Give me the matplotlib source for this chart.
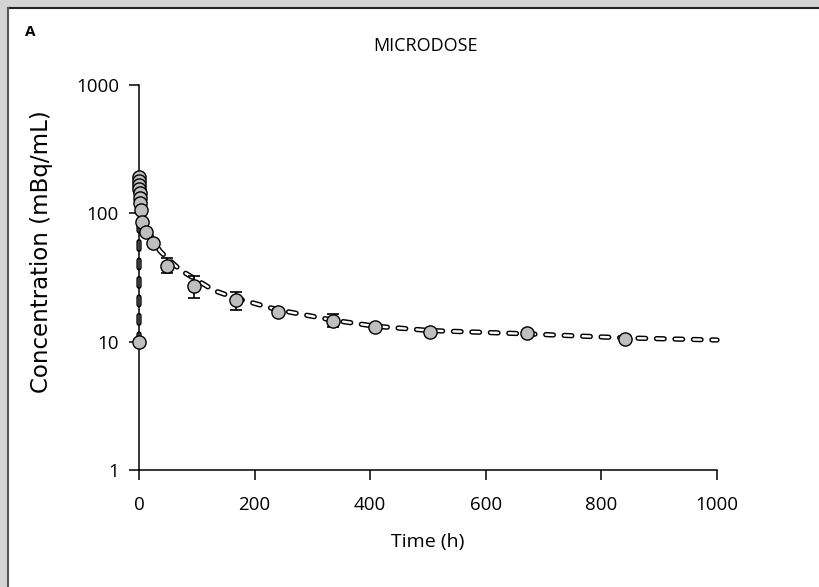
import numpy as np
import matplotlib.pyplot as plt
from matplotlib.patches import Rectangle
from matplotlib.lines import Line2D

plt.rcParams['font.family'] = ['Open Sans', 'DejaVu Sans']
plt.rcParams['lines.scale_dashes'] = False

# observed mean concentrations (mBq/mL) with error bars
time_obs = [0, 0.08, 0.25, 0.5, 0.75, 1, 1.5, 2, 3, 6, 12, 24, 48, 96, 168, 240, 336, 408, 504, 672, 840]
conc_obs = [10, 191, 180, 167, 154, 143, 131, 120, 106, 85, 71, 59, 39, 27, 21, 17.1, 14.6, 12.9, 12.0, 11.6, 10.4]
err_low = [0, 0, 0, 0, 0, 0, 0, 0, 0, 0, 0, 0, 4.5, 5.0, 3.2, 0.8, 1.7, 0.5, 0.5, 0.5, 0.5]
err_high = [0, 0, 0, 0, 0, 0, 0, 0, 0, 0, 0, 0, 6.0, 5.7, 3.2, 0.8, 1.9, 0.5, 0.5, 0.5, 0.5]

# model fit curve
time_fit = [0, 0.08, 0.5, 1, 2, 4, 8, 12, 24, 36, 48, 72, 96, 130, 168, 240, 336, 408, 504, 600, 672, 840, 1000]
conc_fit = [10, 192, 172, 158, 138, 116, 94, 82, 62, 51, 45, 36, 31, 25, 21.8, 17.7, 14.7, 13.2, 12.2, 11.8, 11.5, 10.7, 10.3]

x_ticks = [0, 200, 400, 600, 800, 1000]
y_ticks = [1, 10, 100, 1000]

W, H = 819, 587
fig = plt.figure(figsize=(W / 100, H / 100), dpi=100, facecolor='#d4d4d4')
# white panel with dark top/left edge
fig.patches.append(Rectangle((8 / W, 0), 1, 1 - 8 / H, transform=fig.transFigure,
                             facecolor='white', edgecolor='none', zorder=-10))
fig.lines.append(Line2D([8 / W, 1], [1 - 8 / H, 1 - 8 / H], transform=fig.transFigure,
                        color='#222222', lw=1.5, zorder=-5))
fig.lines.append(Line2D([8 / W, 8 / W], [0, 1 - 8 / H], transform=fig.transFigure,
                        color='#555555', lw=1.5, zorder=-5))

ax = fig.add_axes([139 / W, 1 - 470 / H, 578 / W, 385 / H])
ax.set_facecolor('none')

# hollow dashed model line
ax.plot(time_fit, conc_fit, color='black', lw=3.8, ls=(0, (5.5, 7.8)), dash_capstyle='round',
        clip_on=False, zorder=2)
ax.plot(time_fit, conc_fit, color='white', lw=1.7, ls=(0, (5.5, 7.8)), dash_capstyle='round',
        clip_on=False, zorder=2.1)

t = np.array(time_obs)
c = np.array(conc_obs)
lo = np.array(err_low)
hi = np.array(err_high)
m = (lo > 0) | (hi > 0)
ax.errorbar(t[m], c[m], yerr=[lo[m], hi[m]], fmt='none', ecolor='black', elinewidth=1.2,
            capsize=4.5, capthick=1.2, zorder=3)
ax.plot(time_obs, conc_obs, 'o', ms=9.5, mfc='#bfbfbf', mec='black', mew=1, clip_on=False, zorder=4)

ax.set_yscale('log')
ax.set_xlim(0, 1000)
ax.set_ylim(1, 1000)
ax.set_xticks(x_ticks)
ax.set_xticklabels([str(v) for v in x_ticks])
ax.set_yticks(y_ticks)
ax.set_yticklabels([str(v) for v in y_ticks])
ax.minorticks_off()
for s in ['top', 'right']:
    ax.spines[s].set_visible(False)
for s in ['left', 'bottom']:
    ax.spines[s].set_linewidth(1.1)
ax.tick_params(direction='out', length=7.5, width=1.1, labelsize=13.5)
ax.tick_params(axis='x', pad=11)
ax.tick_params(axis='y', pad=7)

ax.set_ylabel('Concentration (mBq/mL)', fontsize=16.5, family='DejaVu Sans', va='center')
ax.yaxis.set_label_coords(-0.168, 0.566)
ax.set_xlabel('Time (h)', fontsize=14, va='center')
ax.xaxis.set_label_coords(0.5, -0.188)

fig.text(425 / W, 1 - 46 / H, 'MICRODOSE', ha='center', va='center', fontsize=13)
fig.text(30 / W, 1 - 32 / H, 'A', ha='center', va='center', fontsize=11, fontweight='bold')

fig.savefig('out.png', dpi=100, facecolor=fig.get_facecolor())
